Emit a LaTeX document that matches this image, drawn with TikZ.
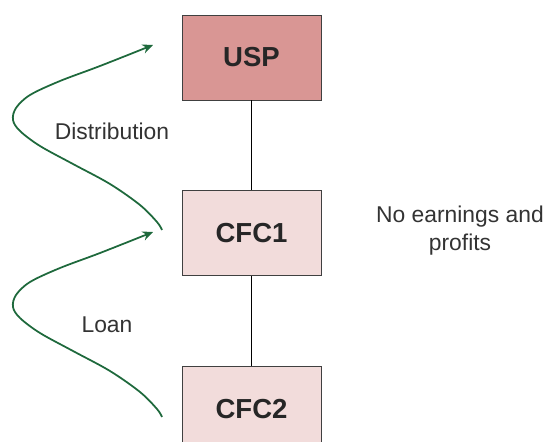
\documentclass[tikz,border=0pt]{standalone}
\usepackage{fontspec}
\setmainfont{Liberation Sans}
\usepackage{xcolor}
\usepackage{tikz}
\usetikzlibrary{arrows.meta, positioning}
\definecolor{parentrose}{RGB}{217, 150, 148}
\definecolor{childpink}{RGB}{242, 220, 219}
\definecolor{flowgreen}{RGB}{30, 105, 60}
\definecolor{edgegray}{RGB}{64, 64, 64}

\begin{document}
\begin{tikzpicture}[
        x=0.03cm, y=0.03cm,
        node distance=2.7cm,
        entity/.style={rectangle, draw=edgegray, line width=0.8pt, fill=childpink, minimum width=4.17cm, minimum height=2.55cm, align=center, font=\fontsize{23.5}{28}\selectfont\bfseries, text=black!85},
        link/.style={line width=1.2pt, black},
        flow/.style={-{Stealth[length=9pt, width=8pt]}, line width=1.5pt, flowgreen},
        note/.style={font=\fontsize{19.5}{24}\selectfont, text=black!80, align=center}
    ]
        \clip (0,0) rectangle (545,441);

        % Entities
        \node[entity, fill=parentrose] (usp) at (251.5,383.5) {USP};
        \node[entity, below=of usp] (cfc1) {CFC1};
        \node[entity, below=of cfc1] (cfc2) {CFC2};

        % Ownership
        \draw[link] (usp) -- (cfc1);
        \draw[link] (cfc1) -- (cfc2);

        % Flows
        \coordinate (distStart) at (162,211);
        \coordinate (distEnd) at (153,396);
        \coordinate (loanStart) at (162,24);
        \coordinate (loanEnd) at (153,209);
        \draw[flow] plot[smooth, tension=0.55] coordinates {(distStart) (157,219) (140,236) (110,257) (73,277) (40,295) (20,310) (13,321) (16,333) (30,346) (60,360) (100,375) (distEnd)};
        \draw[flow] plot[smooth, tension=0.55] coordinates {(loanStart) (157,32) (140,49) (110,70) (73,90) (40,108) (20,123) (13,134) (16,146) (30,159) (60,173) (100,188) (loanEnd)};

        % Labels
        \node[note] (distLabel) at (112,310) {Distribution};
        \node[note] (loanLabel) at (107,116) {Loan};
        \node[note] (eandp) at (460,210) {No earnings and\\profits};
    \end{tikzpicture}
\end{document}
